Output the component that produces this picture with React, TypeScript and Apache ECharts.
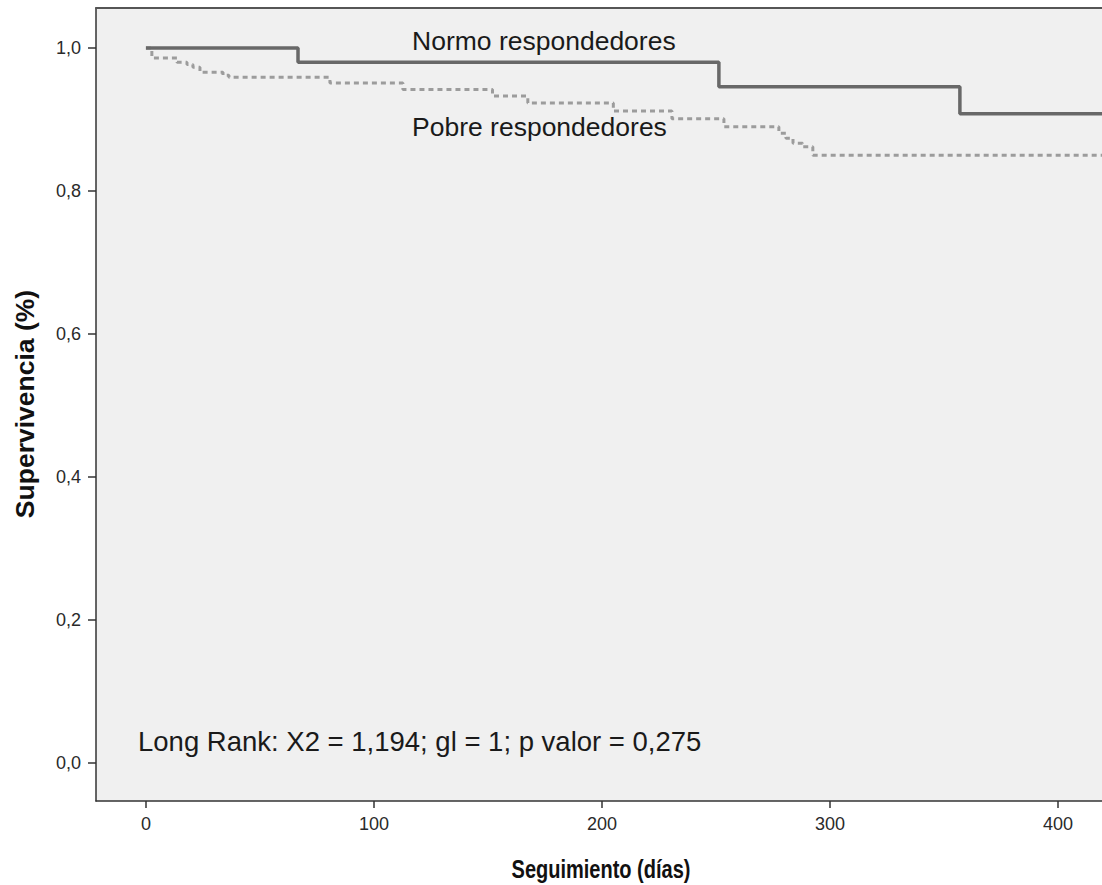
import React, { useEffect, useRef } from "react";
import * as echarts from "echarts";

// Kaplan-Meier step points: [day, survival]
const normoDays = [0, 66.7, 251.3, 357, 420];
const normoSurv = [1.0, 0.98, 0.946, 0.908, 0.908];

const pobreDays = [0, 2.6, 13.6, 18, 20.6, 23.7, 33.8, 36.4, 80.7, 112.7, 152, 167.5, 205, 230.7, 253.5, 277.6, 280.7, 283.8, 288, 292.5, 420];
const pobreSurv = [1.0, 0.986, 0.98, 0.977, 0.973, 0.966, 0.962, 0.959, 0.951, 0.942, 0.933, 0.923, 0.912, 0.901, 0.89, 0.881, 0.874, 0.867, 0.862, 0.85, 0.85];

const xTicks = [0, 100, 200, 300, 400];
const yTicks = [0, 0.2, 0.4, 0.6, 0.8, 1.0];

const labelNormo = "Normo respondedores";
const labelPobre = "Pobre respondedores";
const statText = "Long Rank: X2 = 1,194; gl = 1; p valor = 0,275";
const xTitle = "Seguimiento (días)";
const yTitle = "Supervivencia (%)";

const FONT = "Liberation Sans, Arial, sans-serif";

export default function App() {
  const ref = useRef<HTMLDivElement>(null);
  useEffect(() => {
    document.body.style.margin = "0";
    const chart = echarts.init(ref.current!, undefined, { renderer: "svg" });
    const xMin = -21.9;
    const gridW = 1006;
    const pxPerDay = 2.28;
    const xMax = xMin + gridW / pxPerDay;
    const axisColor = "#333333";
    chart.setOption({
      animation: false,
      backgroundColor: "#ffffff",
      textStyle: { fontFamily: FONT },
      grid: {
        left: 96,
        top: 8,
        width: gridW,
        height: 793,
        show: true,
        backgroundColor: "#f0f0f0",
        borderWidth: 0,
        containLabel: false,
      },
      xAxis: [
        {
          type: "value",
          min: xMin,
          max: xMax,
          position: "bottom",
          splitLine: { show: false },
          axisLine: { onZero: false, lineStyle: { color: axisColor, width: 1.5 } },
          axisTick: {
            show: true,
            length: 7,
            lineStyle: { color: axisColor, width: 1.5 },
            customValues: xTicks,
          },
          axisLabel: {
            customValues: xTicks,
            margin: 14,
            color: "#2a2a2a",
            fontSize: 18,
            fontFamily: FONT,
          },
        },
        {
          type: "value",
          min: xMin,
          max: xMax,
          position: "top",
          splitLine: { show: false },
          axisLine: { onZero: false, lineStyle: { color: "#555555", width: 2 } },
          axisTick: { show: false },
          axisLabel: { show: false },
        },
      ],
      yAxis: {
        type: "value",
        min: -0.053,
        max: 1.056,
        splitLine: { show: false },
        axisLine: { onZero: false, lineStyle: { color: axisColor, width: 1.5 } },
        axisTick: {
          show: true,
          length: 8,
          lineStyle: { color: axisColor, width: 1.5 },
          customValues: yTicks,
        },
        axisLabel: {
          customValues: yTicks,
          margin: 15,
          color: "#2a2a2a",
          fontSize: 18,
          fontFamily: FONT,
          formatter: (v: number) => v.toFixed(1).replace(".", ","),
        },
      },
      series: [
        {
          name: labelPobre,
          type: "line",
          step: "end",
          symbol: "none",
          clip: true,
          xAxisIndex: 0,
          data: pobreDays.map((d, i) => [d, pobreSurv[i]]),
          lineStyle: { color: "#9c9c9c", width: 3, type: [5, 4] },
        },
        {
          name: labelNormo,
          type: "line",
          step: "end",
          symbol: "none",
          clip: true,
          xAxisIndex: 0,
          data: normoDays.map((d, i) => [d, normoSurv[i]]),
          lineStyle: { color: "#686868", width: 3.5, type: "solid" },
        },
      ],
      graphic: [
        {
          type: "text",
          left: 412,
          top: 27,
          style: { text: labelNormo, fontSize: 26.5, fontFamily: FONT, fill: "#1a1a1a" },
        },
        {
          type: "text",
          left: 412,
          top: 113,
          style: { text: labelPobre, fontSize: 26.5, fontFamily: FONT, fill: "#1a1a1a" },
        },
        {
          type: "text",
          left: 138,
          top: 727,
          style: { text: statText, fontSize: 27.5, fontFamily: FONT, fill: "#1a1a1a" },
        },
        {
          type: "text",
          x: 601,
          y: 869,
          scaleY: 1.28,
          style: {
            text: xTitle,
            fontSize: 20,
            fontWeight: "bold",
            fontFamily: FONT,
            fill: "#111111",
            align: "center",
            verticalAlign: "middle",
          },
        },
        {
          type: "text",
          x: 25,
          y: 404,
          rotation: Math.PI / 2,
          style: {
            text: yTitle,
            fontSize: 26.5,
            fontWeight: "bold",
            fontFamily: FONT,
            fill: "#111111",
            align: "center",
            verticalAlign: "middle",
          },
        },
      ],
    });
    return () => chart.dispose();
  }, []);
  return <div ref={ref} style={{ width: 1102, height: 885 }} />;
}
